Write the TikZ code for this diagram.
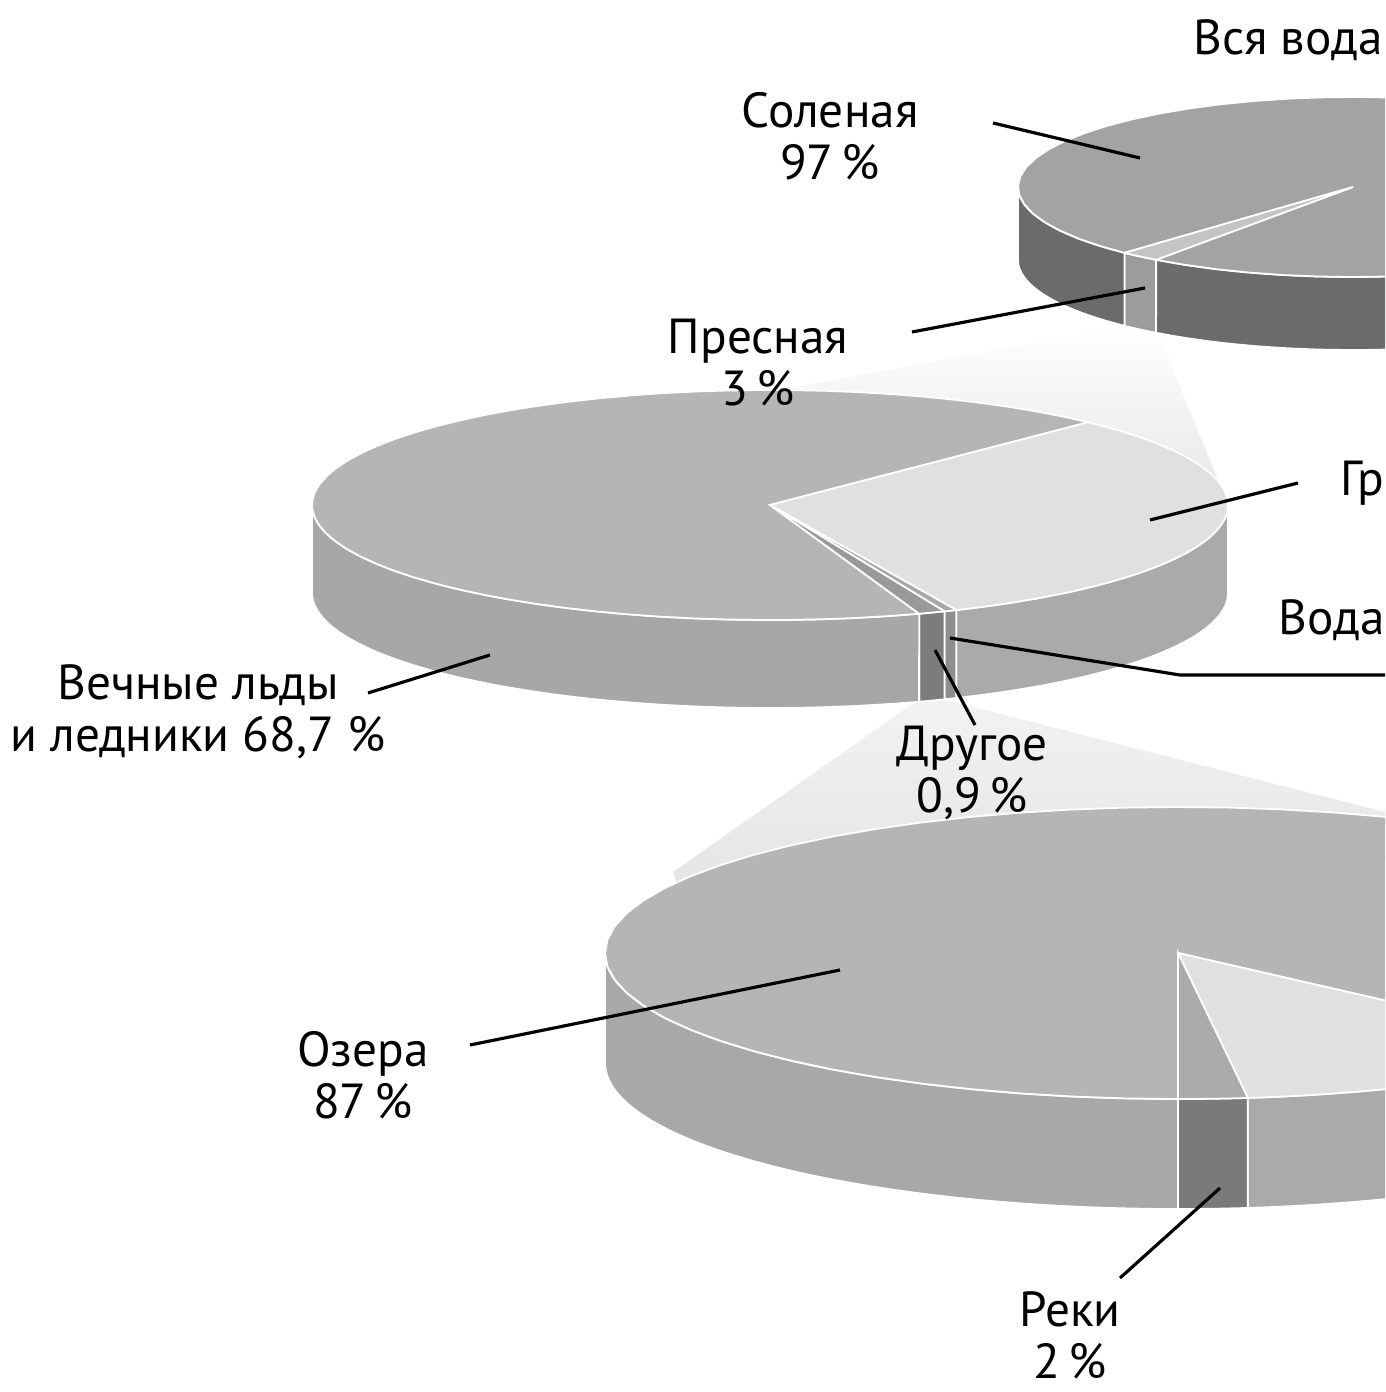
\documentclass[tikz,border=0pt]{standalone}
\usepackage{fontspec}
\setmainfont{PT Sans}
\usepackage{tikz}
\definecolor{saltTop}{HTML}{A3A3A3}
\definecolor{saltSide}{HTML}{6B6B6B}
\definecolor{freshTop}{HTML}{C4C4C4}
\definecolor{freshSide}{HTML}{9C9C9C}
\definecolor{iceTop}{HTML}{B5B5B5}
\definecolor{iceSide}{HTML}{A7A7A7}
\definecolor{groundTop}{HTML}{E0E0E0}
\definecolor{groundSide}{HTML}{AAAAAA}
\definecolor{otherTop}{HTML}{999999}
\definecolor{otherSide}{HTML}{7C7C7C}
\definecolor{vaporTop}{HTML}{A8A8A8}
\definecolor{vaporSide}{HTML}{8E8E8E}
\definecolor{lakeTop}{HTML}{B5B5B5}
\definecolor{lakeSide}{HTML}{A8A8A8}
\definecolor{riverTop}{HTML}{ABABAB}
\definecolor{riverSide}{HTML}{7A7A7A}
\tikzset{
  slice/.style={fill=#1, draw=white, line width=0.5pt},
  lbl/.style={font=\fontsize{14}{14.8}\selectfont, align=center, inner sep=0pt},
  lead/.style={draw=black, line width=0.9pt},
}
% top face of a slice: a, b, from, to (parametric angles, y down)
\newcommand{\pietop}[5]{%
  \filldraw[#1] (0,0) -- plot[domain=#4:#5, samples=60, variable=\t]
    ({#2*cos(\t)}, {#3*sin(\t)}) -- cycle;}
% front face of a slice: a, b, depth, from, to
\newcommand{\pieside}[6]{%
  \filldraw[#1] plot[domain=#5:#6, samples=40, variable=\t]
    ({#2*cos(\t)}, {#3*sin(\t)}) -- plot[domain=#6:#5, samples=40, variable=\t]
    ({#2*cos(\t)}, {#4+#3*sin(\t)}) -- cycle;}

\begin{document}
\begin{tikzpicture}[x=0.01cm, y=-0.01cm]
  \useasboundingbox (0,0) rectangle (1385,1392);
  \clip (0,0) rectangle (1385,1392);

  % zoom fans
  \shade[top color=white, bottom color=gray!20]
    (1128,325) -- (1155,325) -- (1228,505) -- (800,430) -- (790,388) -- cycle;
  \shade[top color=gray!10, bottom color=gray!24]
    (918,700) -- (946,700) -- (1420,821) -- (1300,950) -- (700,950) -- (673,872) -- cycle;

  % all water
  \begin{scope}[shift={(1353,187)}]
    \pieside{slice=saltSide}{335}{90}{73}{0}{126}
    \pieside{slice=freshSide}{335}{90}{73}{126}{133}
    \pieside{slice=saltSide}{335}{90}{73}{133}{180}
    \pietop{slice=saltTop}{335}{90}{133}{486}
    \pietop{slice=freshTop}{335}{90}{126}{133}
  \end{scope}

  % fresh water
  \begin{scope}[shift={(770,505)}]
    \pieside{slice=groundSide}{458}{115}{88}{0}{66}
    \pieside{slice=vaporSide}{458}{115}{88}{66}{67.6}
    \pieside{slice=otherSide}{458}{115}{88}{67.6}{71}
    \pieside{slice=iceSide}{458}{115}{88}{71}{180}
    \pietop{slice=iceTop}{458}{115}{71}{314}
    \pietop{slice=groundTop}{458}{115}{-46}{66}
    \pietop{slice=vaporTop}{458}{115}{66}{67.6}
    \pietop{slice=otherTop}{458}{115}{67.6}{71}
  \end{scope}

  % other
  \begin{scope}[shift={(1178,953)}]
    \pieside{slice=groundSide}{573}{146}{110}{0}{83}
    \pieside{slice=riverSide}{573}{146}{110}{83}{90}
    \pieside{slice=lakeSide}{573}{146}{110}{90}{180}
    \pietop{slice=lakeTop}{573}{146}{90}{402}
    \pietop{slice=groundTop}{573}{146}{42}{83}
    \pietop{slice=riverTop}{573}{146}{83}{90}
  \end{scope}

  % labels
  \node[lbl] (all) at (1288,40) {Вся вода};
  \node[lbl] (salt) at (830,136) {Соленая\\97\,\%};
  \node[lbl] (fresh) at (758,363) {Пресная\\3\,\%};
  \node[lbl, anchor=west] (ground) at (1340,483) {Гр};
  \node[lbl, anchor=west] (vapor) at (1278,620) {Вода};
  \node[lbl] (ice) at (198,712) {Вечные льды\\и ледники 68,7~\%};
  \node[lbl] (other) at (972,773) {Другое\\0,9\,\%};
  \node[lbl] (lakes) at (363,1075) {Озера\\87\,\%};
  \node[lbl] (rivers) at (1070,1335) {Реки\\2\,\%};

  % leader ends
  \coordinate (salt-a) at (993,123);   \coordinate (salt-b) at (1140,158);
  \coordinate (fresh-a) at (912,332);  \coordinate (fresh-b) at (1145,288);
  \coordinate (ground-a) at (1298,483); \coordinate (ground-b) at (1150,520);
  \coordinate (vapor-a) at (1385,675); \coordinate (vapor-k) at (1180,675);
  \coordinate (vapor-b) at (950,638);
  \coordinate (ice-a) at (368,693);    \coordinate (ice-b) at (490,655);
  \coordinate (other-a) at (975,725);  \coordinate (other-b) at (935,650);
  \coordinate (lakes-a) at (470,1045); \coordinate (lakes-b) at (840,970);
  \coordinate (rivers-a) at (1120,1278); \coordinate (rivers-b) at (1220,1188);

  \draw[lead] (salt-a) -- (salt-b);
  \draw[lead] (fresh-a) -- (fresh-b);
  \draw[lead] (ground-a) -- (ground-b);
  \draw[lead] (vapor-a) -- (vapor-k) -- (vapor-b);
  \draw[lead] (ice-a) -- (ice-b);
  \draw[lead] (other-a) -- (other-b);
  \draw[lead] (lakes-a) -- (lakes-b);
  \draw[lead] (rivers-a) -- (rivers-b);
\end{tikzpicture}
\end{document}
